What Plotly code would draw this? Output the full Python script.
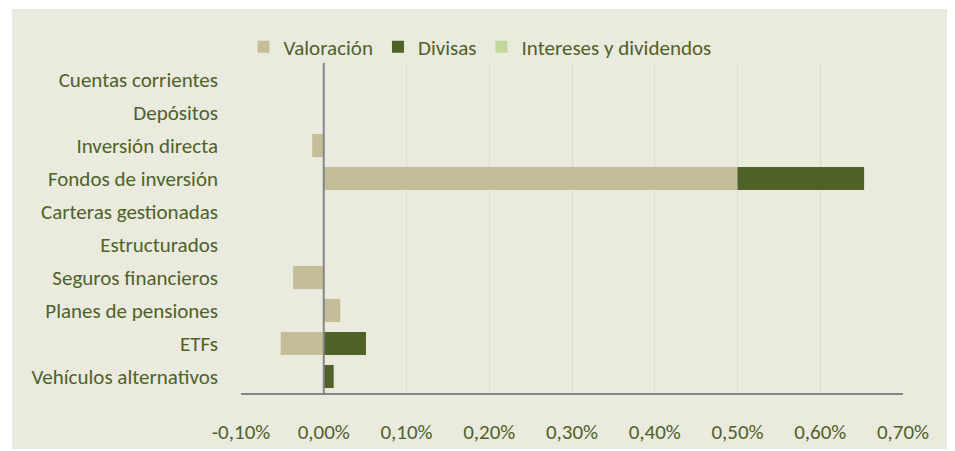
import plotly.graph_objects as go

categories = ["Cuentas corrientes", "Depósitos", "Inversión directa", "Fondos de inversión",
              "Carteras gestionadas", "Estructurados", "Seguros financieros",
              "Planes de pensiones", "ETFs", "Vehículos alternativos"]
valoracion = [0, 0, -0.014, 0.50, 0, 0, -0.037, 0.020, -0.052, 0]
divisas = [0, 0, 0, 0.153, 0, 0, 0, 0, 0.051, 0.012]
intereses = [0, 0, 0, 0, 0, 0, 0, 0, 0, 0]
tick_vals = [-0.1, 0.0, 0.1, 0.2, 0.3, 0.4, 0.5, 0.6, 0.7]
tick_text = ["-0,10%", "0,00%", "0,10%", "0,20%", "0,30%", "0,40%", "0,50%", "0,60%", "0,70%"]

TXT = "#4F6228"
BG = "#EBEADF"
FONT = "Carlito, Lato, sans-serif"

fig = go.Figure()
fig.add_trace(go.Bar(y=categories, x=valoracion, orientation="h", name="Valoración",
                     marker=dict(color="#C4BD97", line=dict(width=0))))
fig.add_trace(go.Bar(y=categories, x=divisas, orientation="h", name="Divisas",
                     marker=dict(color="#4F6228", line=dict(width=0))))
fig.add_trace(go.Bar(y=categories, x=intereses, orientation="h", name="Intereses y dividendos",
                     marker=dict(color="#C3D69B", line=dict(width=0))))

# page has an 8px body margin; work in figure coordinates = page - 8
OFF = 8
W, H = 955 - OFF, 451 - OFF
L, R, T, B = 241 - OFF, 903 - OFF, 63 - OFF, 393 - OFF
pw, ph = R - L, B - T

fig.update_layout(
    width=W, height=H,
    barmode="relative", bargap=0.3,
    paper_bgcolor="white", plot_bgcolor=BG,
    margin=dict(l=L, r=W - R, t=T, b=H - B, pad=0, autoexpand=False),
    font=dict(family=FONT, size=21, color=TXT),
    legend=dict(orientation="h", xref="container", yref="container",
                x=(480 - OFF) / W, xanchor="center", y=1 - (47 - OFF) / H, yanchor="middle",
                font=dict(size=21, color=TXT), bgcolor="rgba(0,0,0,0)",
                itemwidth=30, traceorder="normal"),
    xaxis=dict(range=[-0.1, 0.7], tickvals=tick_vals, ticktext=tick_text,
               showgrid=True, gridcolor="#DCDBD0", gridwidth=1,
               zeroline=False,
               showline=True, linecolor="#868686", linewidth=2,
               ticks="", ticklabelstandoff=19, fixedrange=True, automargin=False,
               tickfont=dict(size=21)),
    yaxis=dict(autorange="reversed", showgrid=False, zeroline=False,
               ticks="", ticklabelstandoff=22, fixedrange=True, automargin=False,
               tickfont=dict(size=21)),
    shapes=[dict(type="rect", xref="paper", yref="paper", layer="below",
                 x0=(12 - 241) / pw, x1=(953 - 241) / pw,
                 y0=(393 - 449) / ph, y1=(393 - 9) / ph,
                 fillcolor=BG, line=dict(width=0)),
            dict(type="line", xref="x", yref="paper", layer="above",
                 x0=0, x1=0, y0=0, y1=1,
                 line=dict(color="#868686", width=2))],
    showlegend=True,
)

fig.write_html("out.html")
